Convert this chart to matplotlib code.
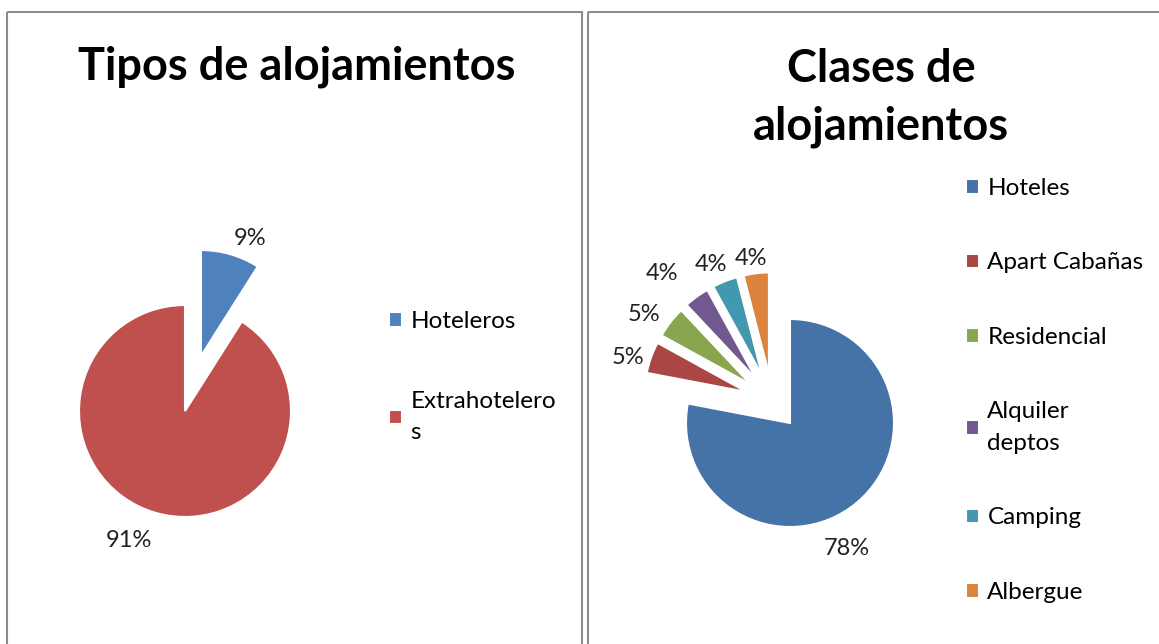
import matplotlib.pyplot as plt
from matplotlib.patches import Rectangle

plt.rcParams['font.family'] = ['Lato', 'DejaVu Sans']

W, H = 1159, 644

# data
tipos = ['Hoteleros', 'Extrahotelero\ns']
tipos_pct = [9, 91]
tipos_colors = ['#4F81BD', '#C0504D']

clases = ['Hoteles', 'Apart Cabañas', 'Residencial', 'Alquiler\ndeptos', 'Camping', 'Albergue']
clases_pct = [78, 5, 5, 4, 4, 4]
clases_colors = ['#4572A7', '#AA4643', '#89A54E', '#71588F', '#4198AF', '#DB843D']

# label positions, in pie-radius units from each pie's centre
tipos_lbl_xy = [(0.613, 1.625), (-0.533, -1.225)]
clases_lbl_xy = [(0.548, -1.21), (-1.558, 0.625), (-1.404, 1.04),
                 (-1.231, 1.435), (-0.760, 1.52), (-0.375, 1.578)]

fig = plt.figure(figsize=(W / 100, H / 100), dpi=100)

# panel frames (pixel coords)
bg = fig.add_axes([0, 0, 1, 1])
bg.set_xlim(0, W)
bg.set_ylim(H, 0)
bg.axis('off')
for x0, x1 in [(7, 582), (588, W + 20)]:
    bg.add_patch(Rectangle((x0, 12), x1 - x0, H, fill=False,
                           edgecolor='#8c8c8c', linewidth=1.5))


def pie_axes(cx, cy, r, half=3.0):
    # axes whose data unit equals the pie radius r (in px), centred on (cx, cy)
    ax = fig.add_axes([(cx - half * r) / W, (H - cy - half * r) / H,
                       2 * half * r / W, 2 * half * r / H])
    return ax


def finish(ax, half=3.0):
    ax.set_xlim(-half, half)
    ax.set_ylim(-half, half)
    ax.set_aspect('equal')
    ax.axis('off')


def add_legend(ax, handles, labels, x, y, spacing):
    leg = ax.legend(handles, labels, loc='upper left', bbox_to_anchor=(x / W, 1 - y / H),
                    bbox_transform=fig.transFigure, frameon=False, fontsize=17.5,
                    handlelength=0.55, handleheight=0.55, handletextpad=0.33,
                    labelspacing=spacing, borderpad=0, borderaxespad=0)
    for t in leg.get_texts():
        t.set_linespacing(1.62)
    return leg


edge = dict(edgecolor='white', linewidth=1.5)
txt = dict(fontsize=17, color='#222222')

# ---- left: Tipos de alojamientos
axl = pie_axes(185, 411, 106)
wl, _, al = axl.pie(tipos_pct, colors=tipos_colors, startangle=90,
                    counterclock=False, explode=[0.54, 0],
                    autopct='%1.0f%%', wedgeprops=edge, textprops=txt)
for t, xy in zip(al, tipos_lbl_xy):
    t.set_position(xy)
finish(axl)
add_legend(axl, wl, tipos, 389, 311, 2.42)

fig.text(297 / W, 1 - 79 / H, 'Tipos de alojamientos', ha='center',
         va='baseline', fontsize=32.5, fontweight='bold')

# ---- right: Clases de alojamientos
axr = pie_axes(790, 423, 104)
# big slice
wb, _, ab = axr.pie(clases_pct, colors=clases_colors, startangle=90,
                    counterclock=False, autopct='%1.0f%%',
                    wedgeprops=edge, textprops=txt)
for w, t in zip(wb[1:], ab[1:]):
    w.set_visible(False)
    t.set_visible(False)
# small slices, pulled out as a group
ws, _, as_ = axr.pie(clases_pct, colors=clases_colors, startangle=90,
                     counterclock=False, center=(-0.17, 0.21), radius=0.98,
                     explode=[0] + [0.26] * 5, autopct='%1.0f%%',
                     wedgeprops=edge, textprops=txt)
ws[0].set_visible(False)
as_[0].set_visible(False)
for t, xy in zip([ab[0]] + list(as_[1:]), clases_lbl_xy):
    t.set_position(xy)
finish(axr)
add_legend(axr, [wb[0]] + list(ws[1:]), clases, 966, 178, 2.2)

fig.text(881 / W, 1 - 139 / H, 'Clases de\nalojamientos', ha='center',
         va='baseline', fontsize=32.5, fontweight='bold', linespacing=1.45)

fig.savefig('out.png', dpi=100)
